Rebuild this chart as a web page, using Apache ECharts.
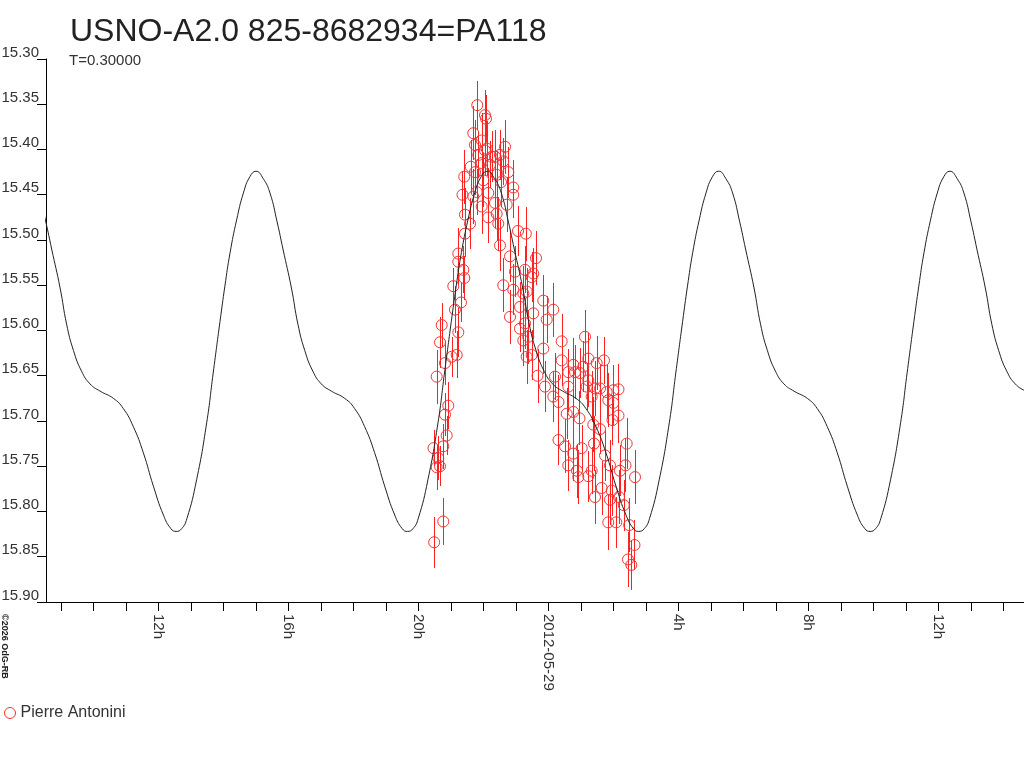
<!DOCTYPE html>
<html>
<head>
<meta charset="UTF-8">
<title>USNO-A2.0 825-8682934=PA118</title>
<script src="https://cdn.jsdelivr.net/npm/echarts@6/dist/echarts.min.js"></script>
<style>
    html, body { margin: 0; padding: 0; background: #fff; }
    #chart { width: 1024px; height: 768px; }
</style>
</head>
<body>
<div id="chart"></div>
<script>
    // time axis: hours since 2012-05-28 00:00 UT
    const hourTicks = [9, 10, 11, 12, 13, 14, 15, 16, 17, 18, 19, 20, 21, 22, 23, 24,
        25, 26, 27, 28, 29, 30, 31, 32, 33, 34, 35, 36, 37, 38];
    const labelHours = [12, 16, 20, 24, 28, 32, 36];
    const magTicks = ['15.30', '15.35', '15.40', '15.45', '15.50', '15.55', '15.60',
        '15.65', '15.70', '15.75', '15.80', '15.85', '15.90'];

    // observations (Pierre Antonini)
    const obsTime = [20.489, 20.769, 20.468, 20.566, 20.615, 20.668, 20.769, 20.874, 20.822, 20.923,
        20.566, 20.822, 21.028, 21.182, 20.668, 20.720, 21.231, 21.129, 21.314, 21.077,
        21.415, 21.385, 21.231, 21.231, 21.437, 21.437, 21.591, 21.360, 21.692, 21.797,
        21.415, 21.615, 21.745, 21.745, 21.692, 21.846, 21.951, 21.815, 22.052, 22.083,
        22.105, 22.052, 21.951, 22.000, 21.951, 22.154, 22.206, 22.258, 22.360, 22.514,
        22.615, 22.668, 22.769, 22.412, 22.545, 22.923, 22.923, 22.360, 22.720, 22.154,
        22.412, 22.462, 23.068, 23.308, 22.514, 22.822, 23.622, 22.975, 23.283, 23.489,
        22.615, 22.923, 23.231, 23.335, 23.129, 22.822, 23.283, 23.385, 23.129, 23.231,
        23.335, 23.489, 23.538, 23.846, 24.154, 23.538, 23.951, 23.846, 23.668, 23.898,
        24.206, 24.412, 25.129, 24.412, 24.769, 25.231, 25.489, 25.714, 24.154, 24.314,
        24.615, 24.615, 24.822, 24.975, 25.077, 25.231, 25.182, 25.437, 25.335, 25.591,
        25.797, 26.000, 26.160, 26.000, 25.846, 24.769, 24.566, 24.960, 25.975, 26.160,
        25.385, 25.591, 24.314, 24.514, 25.028, 25.406, 26.412, 24.769, 25.745, 24.615,
        24.883, 24.923, 25.231, 25.335, 25.898, 26.375, 26.206, 26.668, 25.643, 25.951,
        25.437, 25.898, 26.175, 26.323, 25.846, 26.092, 26.489, 26.652, 26.452, 26.554];
    const obsMag = [15.834, 15.811, 15.730, 15.751, 15.741, 15.750, 15.728, 15.716, 15.693, 15.683,
        15.651, 15.636, 15.629, 15.627, 15.613, 15.594, 15.602, 15.577, 15.569, 15.551,
        15.542, 15.533, 15.524, 15.515, 15.493, 15.472, 15.482, 15.450, 15.452, 15.447,
        15.430, 15.419, 15.425, 15.395, 15.382, 15.406, 15.390, 15.351, 15.362, 15.366,
        15.399, 15.401, 15.415, 15.434, 15.463, 15.448, 15.417, 15.408, 15.408, 15.406,
        15.413, 15.397, 15.425, 15.428, 15.436, 15.442, 15.450, 15.459, 15.461, 15.475,
        15.471, 15.482, 15.490, 15.493, 15.506, 15.518, 15.520, 15.535, 15.533, 15.541,
        15.550, 15.555, 15.559, 15.557, 15.574, 15.585, 15.592, 15.607, 15.598, 15.611,
        15.629, 15.627, 15.537, 15.567, 15.577, 15.581, 15.588, 15.620, 15.650, 15.662,
        15.651, 15.612, 15.607, 15.633, 15.638, 15.631, 15.636, 15.633, 15.673, 15.679,
        15.662, 15.646, 15.646, 15.647, 15.640, 15.655, 15.662, 15.664, 15.673, 15.664,
        15.668, 15.666, 15.665, 15.680, 15.677, 15.690, 15.692, 15.697, 15.699, 15.694,
        15.704, 15.709, 15.721, 15.728, 15.730, 15.725, 15.725, 15.736, 15.738, 15.749,
        15.755, 15.762, 15.761, 15.755, 15.749, 15.749, 15.755, 15.762, 15.774, 15.777,
        15.784, 15.787, 15.784, 15.793, 15.812, 15.812, 15.815, 15.837, 15.853, 15.859];
    const obsErr = [0.028, 0.026, 0.020, 0.025, 0.024, 0.022, 0.025, 0.022, 0.024, 0.026,
        0.030, 0.024, 0.022, 0.026, 0.028, 0.024, 0.027, 0.026, 0.022, 0.020,
        0.024, 0.026, 0.025, 0.028, 0.026, 0.030, 0.028, 0.026, 0.030, 0.025,
        0.030, 0.030, 0.025, 0.028, 0.030, 0.026, 0.030, 0.027, 0.028, 0.026,
        0.030, 0.028, 0.028, 0.030, 0.030, 0.028, 0.026, 0.028, 0.030, 0.028,
        0.026, 0.030, 0.028, 0.026, 0.028, 0.030, 0.026, 0.028, 0.030, 0.028,
        0.030, 0.030, 0.028, 0.030, 0.028, 0.028, 0.030, 0.028, 0.026, 0.028,
        0.030, 0.028, 0.030, 0.026, 0.028, 0.030, 0.028, 0.030, 0.026, 0.028,
        0.030, 0.028, 0.028, 0.028, 0.030, 0.028, 0.026, 0.028, 0.030, 0.028,
        0.026, 0.030, 0.030, 0.028, 0.030, 0.028, 0.030, 0.026, 0.028, 0.030,
        0.028, 0.026, 0.030, 0.028, 0.028, 0.030, 0.026, 0.030, 0.028, 0.026,
        0.030, 0.028, 0.028, 0.026, 0.030, 0.030, 0.028, 0.030, 0.028, 0.030,
        0.030, 0.028, 0.028, 0.030, 0.026, 0.030, 0.028, 0.030, 0.028, 0.028,
        0.030, 0.030, 0.028, 0.026, 0.028, 0.030, 0.028, 0.030, 0.030, 0.028,
        0.030, 0.028, 0.030, 0.028, 0.030, 0.028, 0.030, 0.028, 0.030, 0.028];

    // fitted light curve, one cycle (hours after maximum)
    const fitPeriod = 7.117;
    const fitEpoch = 15.006;
    const fitOffset = [0, 0.22, 0.43, 0.65, 0.83, 1.09, 1.29, 1.50, 1.75, 2.01, 2.32, 2.73, 3.03, 3.34,
        3.65, 3.96, 4.27, 4.50, 4.66, 4.83, 4.99, 5.29, 5.60, 5.80, 6.01, 6.16, 6.32, 6.52, 6.73, 6.93];
    const fitMag = [15.424, 15.432, 15.448, 15.480, 15.510, 15.553, 15.593, 15.622, 15.645, 15.659,
        15.667, 15.675, 15.686, 15.706, 15.735, 15.772, 15.804, 15.819, 15.822, 15.819, 15.808,
        15.765, 15.702, 15.647, 15.590, 15.551, 15.514, 15.478, 15.448, 15.430];

    const fontFamily = '"Liberation Sans", Arial, sans-serif';
    const red = '#f03434';

    const fitLine = [];
    for (let k = -1; k <= 3; k++) {
        fitOffset.forEach((o, i) => fitLine.push([fitEpoch + k * fitPeriod + o, fitMag[i]]));
    }
    fitLine.push([fitEpoch + 4 * fitPeriod, fitMag[0]]);

    const obsPoints = obsTime.map((t, i) => [t, obsMag[i], obsErr[i]]);

    const chart = echarts.init(document.getElementById('chart'), null, { renderer: 'canvas' });

    chart.setOption({
        animation: false,
        backgroundColor: '#fff',
        color: [red, '#222'],
        title: [
            {
                text: 'USNO-A2.0 825-8682934=PA118',
                left: 65, top: 11,
                textStyle: { fontSize: 32, fontWeight: 'normal', color: '#222', fontFamily: fontFamily }
            },
            {
                text: 'T=0.30000',
                left: 64, top: 48,
                textStyle: { fontSize: 15, fontWeight: 'normal', color: '#333', fontFamily: fontFamily }
            }
        ],
        legend: {
            left: 4, top: 705, padding: 0,
            itemWidth: 11, itemHeight: 12, itemGap: 10,
            textStyle: { fontSize: 16, color: '#333', fontFamily: fontFamily },
            data: [{
                name: 'Pierre Antonini',
                icon: 'circle',
                itemStyle: { color: 'transparent', borderColor: red, borderWidth: 1 }
            }]
        },
        graphic: [{
            type: 'text',
            x: 9, y: 614,
            rotation: -Math.PI / 2,
            style: { text: '\u00a92026 OdG-RB', fontSize: 9, fontWeight: 'bold', fill: '#222', verticalAlign: 'top', fontFamily: fontFamily }
        }],
        grid: { left: 46, right: 0, top: 59, bottom: 166, outerBoundsMode: 'none', containLabel: false },
        xAxis: {
            type: 'value',
            min: 8.545,
            max: 38.637,
            axisLine: { lineStyle: { color: '#000', width: 1 } },
            axisTick: { show: true, length: 9, customValues: hourTicks, lineStyle: { color: '#000' } },
            splitLine: { show: false },
            axisLabel: {
                customValues: labelHours,
                rotate: -90,
                margin: 12,
                fontSize: 15,
                color: '#333',
                fontFamily: fontFamily,
                formatter: v => v === 24 ? '2012-05-29' : (v % 24) + 'h'
            }
        },
        yAxis: {
            type: 'value',
            inverse: true,
            min: 15.30,
            max: 15.90,
            interval: 0.05,
            axisLine: { show: true, lineStyle: { color: '#000', width: 1 } },
            axisTick: { show: true, length: 9, lineStyle: { color: '#000' } },
            splitLine: { show: false },
            axisLabel: {
                margin: 7,
                verticalAlign: 'bottom',
                lineHeight: 13,
                fontSize: 15,
                color: '#333',
                fontFamily: fontFamily,
                formatter: v => magTicks[Math.round((v - 15.30) / 0.05)]
            }
        },
        series: [
            {
                name: 'Pierre Antonini',
                type: 'custom',
                data: obsPoints,
                z: 5,
                silent: true,
                itemStyle: { color: red },
                renderItem: function (params, api) {
                    const t = api.value(0), m = api.value(1), e = api.value(2);
                    const top = api.coord([t, m - e]);
                    const bot = api.coord([t, m + e]);
                    const x = Math.round(top[0]);
                    const y1 = Math.round(top[1]);
                    return {
                        type: 'rect',
                        shape: { x: x, y: y1, width: 1, height: Math.round(bot[1]) - y1 },
                        style: { fill: '#ff2020', stroke: null }
                    };
                }
            },
            {
                name: 'Pierre Antonini',
                type: 'scatter',
                data: obsPoints,
                z: 5,
                symbol: 'circle',
                symbolSize: 11,
                silent: true,
                itemStyle: { color: 'transparent', borderColor: red, borderWidth: 1, opacity: 1 }
            },
            {
                name: 'fit',
                type: 'line',
                data: fitLine,
                z: 6,
                smooth: true,
                symbol: 'none',
                silent: true,
                lineStyle: { color: '#222', width: 1 }
            }
        ]
    });
</script>
</body>
</html>
